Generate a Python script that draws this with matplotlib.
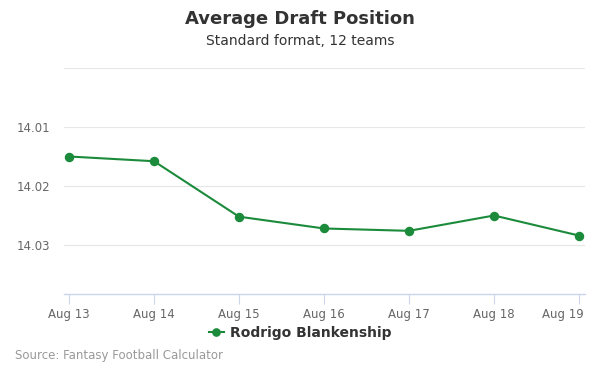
import matplotlib
matplotlib.use("Agg")
import matplotlib.pyplot as plt
import matplotlib.transforms as mtransforms
from matplotlib.ticker import FixedLocator, FixedFormatter

# data
dates = ["Aug 13", "Aug 14", "Aug 15", "Aug 16", "Aug 17", "Aug 18", "Aug 19"]
adp = [14.0150, 14.0154, 14.0201, 14.0211, 14.0213, 14.0200, 14.0217]
player = "Rodrigo Blankenship"

y_ticks = [14.0075, 14.0125, 14.0175, 14.0225]
y_labels = ["", "14.01", "14.02", "14.03"]

green = "#1b8b3b"

fig = plt.figure(figsize=(6, 3.75), dpi=100)
ax = fig.add_axes([64 / 600, 81 / 375, 521 / 600, 226 / 375])

x = list(range(len(dates)))
ax.plot(x, adp, color=green, lw=1.5, marker="o", ms=5.8, label=player)

ax.set_xlim(-5 / 85, 6 + 6 / 85)
ax.set_ylim(14.0075 + 226 / 59 * 0.005, 14.0075)

ax.yaxis.set_major_locator(FixedLocator(y_ticks))
ax.yaxis.set_major_formatter(FixedFormatter(y_labels))
ax.set_xticks(x)
ax.set_xticklabels(dates)

ax.grid(axis="y", color="#e6e6e6", lw=0.8)
ax.set_axisbelow(True)
for s in ["top", "right", "left"]:
    ax.spines[s].set_visible(False)
ax.spines["bottom"].set_color("#ccd6eb")
ax.spines["bottom"].set_linewidth(1)
ax.tick_params(axis="y", length=0, labelsize=8.5, labelcolor="#666666", pad=10)
ax.tick_params(axis="x", length=7, color="#ccd6eb", labelsize=8.5,
               labelcolor="#666666", pad=3)

# last label is pushed inside the chart, like the original
last = ax.get_xticklabels()[-1]
last.set_ha("right")
last.set_transform(last.get_transform() +
                   mtransforms.ScaledTranslation(5 / 100, 0, fig.dpi_scale_trans))

fig.text(0.5, 1 - 19 / 375, "Average Draft Position", ha="center", va="center",
         fontsize=13, fontweight="bold", color="#333333")
fig.text(0.5, 1 - 41 / 375, "Standard format, 12 teams", ha="center", va="center",
         fontsize=10, color="#333333")

leg = fig.legend(loc="center", bbox_to_anchor=(0.5, 1 - 333 / 375), frameon=False,
                 handlelength=1.1, handletextpad=0.4, markerscale=0.9,
                 prop={"size": 10, "weight": "bold"})
for t in leg.get_texts():
    t.set_color("#333333")

fig.text(15 / 600, 1 - 356 / 375, "Source: Fantasy Football Calculator", ha="left",
         va="center", fontsize=8.5, color="#999999")

fig.savefig("out.png", dpi=100)
